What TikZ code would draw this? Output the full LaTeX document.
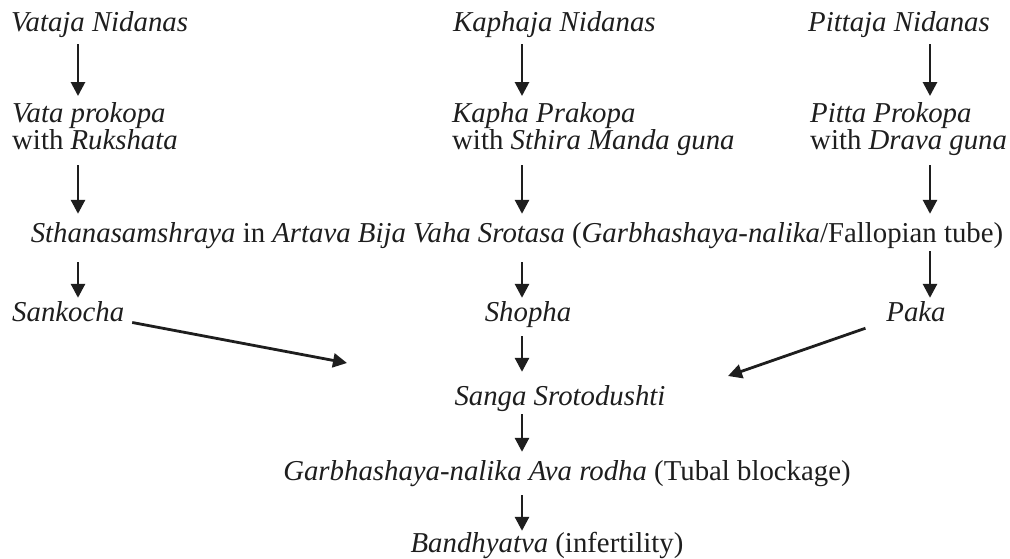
\documentclass[tikz,border=0pt]{standalone}
\usepackage{fontspec}
\setmainfont{Liberation Serif}
\usepackage{tikz}
\usetikzlibrary{calc,arrows.meta}
\definecolor{ink}{HTML}{1E1E1E}
\newcommand{\lstrut}{\rule[-9pt]{0pt}{30pt}}
\tikzset{
  lab/.style={text=ink, inner sep=0pt, font=\fontsize{28.8}{27}\selectfont, align=left,
    execute at begin node=\lstrut, execute at end node=\lstrut},
  arr/.style={draw=ink, line width=2.8pt, -{Triangle[width=14pt,length=14pt]},
    shorten <=6pt, shorten >=6pt}
}

\begin{document}
\begin{tikzpicture}[x=1pt,y=-1pt]
\useasboundingbox[fill=white] (0,0) rectangle (1010,558);
% arrow columns
\coordinate (colL) at (78,0);
\coordinate (colM) at (522,0);
\coordinate (colR) at (930,0);

% three dosha columns
\node[lab,anchor=base west] (vnid) at (11,31) {\textit{Vataja Nidanas}};
\node[lab,anchor=base west] (knid) at (453,31) {\textit{Kaphaja Nidanas}};
\node[lab,anchor=base west] (pnid) at (808,31) {\textit{Pittaja Nidanas}};
\node[lab,anchor=north west] (vprak) at (12,102) {\textit{Vata prokopa}\\with \textit{Rukshata}};
\node[lab,anchor=north west] (kprak) at (452,102) {\textit{Kapha Prakopa}\\with \textit{Sthira Manda guna}};
\node[lab,anchor=north west] (pprak) at (810,102) {\textit{Pitta Prokopa}\\with \textit{Drava guna}};

\node[lab,anchor=base] (sthana) at (517,242) {\textit{Sthanasamshraya} in \textit{Artava Bija Vaha Srotasa} (\textit{Garbhashaya-nalika}/Fallopian tube)};

\node[lab,anchor=base west] (sank) at (12,321) {\textit{Sankocha}};
\node[lab,anchor=base] (shopha) at (528,321) {\textit{Shopha}};
\node[lab,anchor=base] (paka) at (916,321) {\textit{Paka}};
\node[lab,anchor=base] (sanga) at (560,405) {\textit{Sanga Srotodushti}};
\node[lab,anchor=base] (garbha) at (567,480) {\textit{Garbhashaya-nalika Ava rodha} (Tubal blockage)};
\node[lab,anchor=base] (bandh) at (547,552) {\textit{Bandhyatva} (infertility)};
\coordinate (sankTip) at (347,363);
\coordinate (pakaTip) at (728,376);

\draw[arr,shorten <=4pt] (vnid.south -| colL) -- (vprak.north -| colL);
\draw[arr,shorten <=4pt] (knid.south -| colM) -- (kprak.north -| colM);
\draw[arr,shorten <=4pt] (pnid.south -| colR) -- (pprak.north -| colR);
\draw[arr,shorten <=7pt,shorten >=7pt] (vprak.south -| colL) -- (sthana.north -| colL);
\draw[arr,shorten <=7pt,shorten >=7pt] (kprak.south -| colM) -- (sthana.north -| colM);
\draw[arr,shorten <=7pt,shorten >=7pt] (pprak.south -| colR) -- (sthana.north -| colR);
\draw[arr,shorten <=11pt,shorten >=2pt] (sthana.south -| colL) -- (sank.north -| colL);
\draw[arr,shorten <=11pt,shorten >=2pt] (sthana.south -| colM) -- (shopha.north -| colM);
\draw[arr,shorten <=0pt,shorten >=2pt] (sthana.south -| colR) -- (paka.north -| colR);
\draw[arr,shorten >=12pt] (shopha.south -| colM) -- (sanga.north -| colM);
\draw[arr,shorten <=0pt,shorten >=7pt] (sanga.south -| colM) -- (garbha.north -| colM);
\draw[arr,shorten >=0pt] (garbha.south -| colM) -- (bandh.north -| colM);
\draw[arr,shorten <=8pt,shorten >=0pt] (sank.base east) -- (sankTip);
\draw[arr,shorten <=22pt,shorten >=0pt] (paka.base west) -- (pakaTip);
\end{tikzpicture}
\end{document}
